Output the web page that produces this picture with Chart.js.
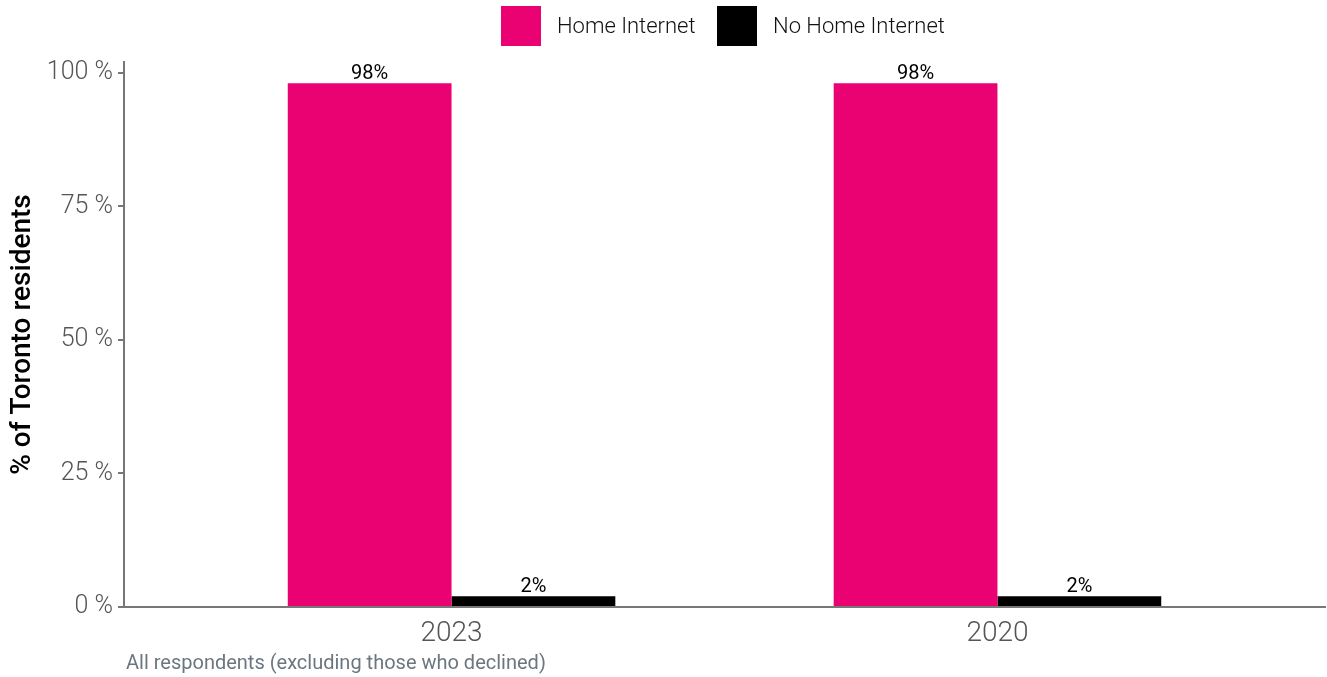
<!DOCTYPE html>
<html>
<head>
<meta charset="utf-8">
<script src="https://cdn.jsdelivr.net/npm/chart.js@4.4.1/dist/chart.umd.min.js"></script>
<style>
  html, body { margin: 0; padding: 0; background: #fff; }
  #wrap { width: 1327px; height: 677px; position: relative; }
</style>
</head>
<body>
<div id="wrap"><canvas id="internetChart" width="1327" height="677"></canvas></div>
<script>
const years = ["2023", "2020"];
const homeInternet = [98, 98];
const noHomeInternet = [2, 2];
const yTicks = [0, 25, 50, 75, 100];

const PINK = "#EA0172";
const AXIS = "#777777";
const FONT = "Roboto, 'Noto Sans', sans-serif";

// value labels above each bar
const barLabels = {
  id: 'barLabels',
  afterDatasetsDraw(chart) {
    const ctx = chart.ctx;
    ctx.save();
    ctx.font = "400 20px " + FONT;
    ctx.fillStyle = "#000";
    ctx.textAlign = "center";
    ctx.textBaseline = "alphabetic";
    chart.data.datasets.forEach((ds, i) => {
      chart.getDatasetMeta(i).data.forEach((bar, j) => {
        ctx.fillText(ds.data[j].y + "%", bar.x, bar.y - 4);
      });
    });
    ctx.restore();
  }
};

// legend across the top + caption under the axis
const extras = {
  id: 'extras',
  afterDraw(chart) {
    const ctx = chart.ctx;
    ctx.save();
    ctx.font = "300 22px " + FONT;
    ctx.textBaseline = "middle";
    ctx.textAlign = "left";
    const boxX = [501, 717];
    chart.data.datasets.forEach((ds, i) => {
      ctx.fillStyle = ds.backgroundColor;
      ctx.fillRect(boxX[i], 6, 40, 40);
      ctx.fillStyle = "#111";
      ctx.fillText(ds.label, boxX[i] + 56, 27);
    });

    ctx.font = "400 20px " + FONT;
    ctx.fillStyle = "#6b7780";
    ctx.textBaseline = "alphabetic";
    ctx.fillText("All respondents (excluding those who declined)", 126, 669);
    ctx.restore();
  }
};

new Chart(document.getElementById('internetChart'), {
  type: 'bar',
  data: {
    datasets: [
      {
        label: "Home Internet",
        data: years.map((y, i) => ({ x: i + 1, y: homeInternet[i] })),
        backgroundColor: PINK
      },
      {
        label: "No Home Internet",
        data: years.map((y, i) => ({ x: i + 1, y: noHomeInternet[i] })),
        backgroundColor: "#000000"
      }
    ]
  },
  options: {
    responsive: false,
    animation: false,
    categoryPercentage: 0.6,
    barPercentage: 1.0,
    layout: { padding: { top: 62, right: 2, bottom: 30, left: 0 } },
    plugins: {
      legend: { display: false },
      tooltip: { enabled: false }
    },
    scales: {
      x: {
        type: 'linear',
        offset: false,
        min: 0.4,
        max: 2.6,
        grid: { display: false },
        border: { display: true, color: AXIS, width: 2 },
        afterBuildTicks: s => { s.ticks = years.map((y, i) => ({ value: i + 1 })); },
        afterFit: s => { s.height = 40; },
        ticks: {
          callback: v => years[v - 1],
          color: "#555",
          font: { family: FONT, size: 28, weight: 300 },
          padding: 2,
          maxRotation: 0
        }
      },
      y: {
        min: 0,
        max: 102,
        afterBuildTicks: s => { s.ticks = yTicks.map(v => ({ value: v })); },
        afterFit: s => { s.width = 124; },
        grid: { display: true, drawOnChartArea: false, tickLength: 6, color: AXIS, lineWidth: 2 },
        border: { display: true, color: AXIS, width: 2 },
        title: {
          display: true,
          text: "% of Toronto residents",
          color: "#000",
          font: { family: FONT, size: 28, weight: 500 },
          padding: { top: 6, bottom: 0 }
        },
        ticks: {
          callback: v => v + " %",
          color: "#555",
          font: { family: FONT, size: 25, weight: 300 },
          padding: 5
        }
      }
    }
  },
  plugins: [barLabels, extras]
});
</script>
</body>
</html>
